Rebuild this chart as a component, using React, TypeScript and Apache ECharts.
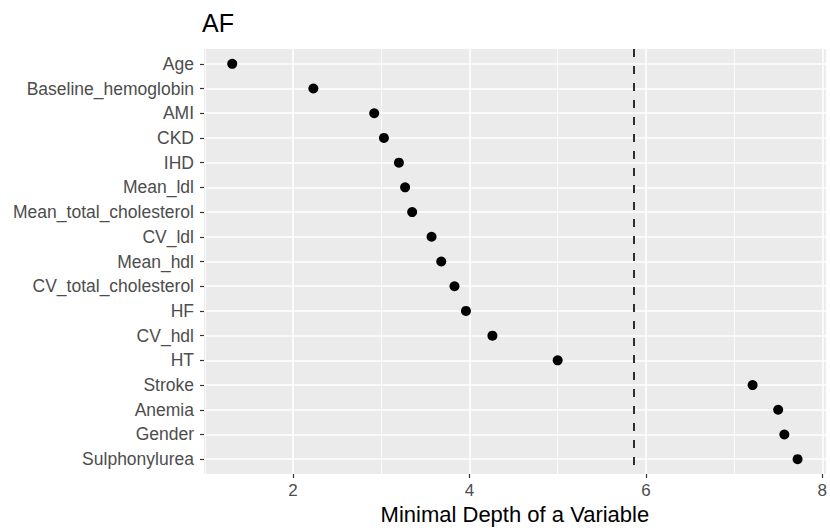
import React, { useEffect, useRef } from "react";
import * as echarts from "echarts";

const variables = [
  "Age",
  "Baseline_hemoglobin",
  "AMI",
  "CKD",
  "IHD",
  "Mean_ldl",
  "Mean_total_cholesterol",
  "CV_ldl",
  "Mean_hdl",
  "CV_total_cholesterol",
  "HF",
  "CV_hdl",
  "HT",
  "Stroke",
  "Anemia",
  "Gender",
  "Sulphonylurea",
];
const minimalDepth = [
  1.31, 2.23, 2.92, 3.03, 3.2, 3.27, 3.35, 3.57, 3.68, 3.83, 3.96, 4.26, 5.0,
  7.21, 7.5, 7.57, 7.72,
];
const thresholdDepth = 5.86;
const xMajorTicks = [2, 4, 6, 8];
const xMinorTicks = [1, 3, 5, 7];
const xMin = 0.99;
const xMax = 8.04;

export default function App() {
  const ref = useRef<HTMLDivElement>(null);
  useEffect(() => {
    if (!ref.current) return;
    const chart = echarts.init(ref.current, null, { renderer: "svg" });
    const yIdx = variables.map((_, i) => i);
    chart.setOption({
      animation: false,
      backgroundColor: "#ffffff",
      textStyle: { fontFamily: "Liberation Sans, Arial, sans-serif" },
      title: {
        text: "AF",
        left: 202,
        top: 10,
        padding: 0,
        textStyle: {
          fontSize: 25,
          fontWeight: "normal",
          color: "#000000",
          fontFamily: "Liberation Sans, Arial, sans-serif",
        },
      },
      grid: {
        left: 204,
        right: 1,
        top: 49,
        bottom: 58,
        show: true,
        backgroundColor: "#EBEBEB",
        borderWidth: 0,
      },
      xAxis: {
        type: "value",
        min: xMin,
        max: xMax,
        position: "bottom",
        name: "Minimal Depth of a Variable",
        nameLocation: "middle",
        nameGap: 29,
        nameTextStyle: {
          fontSize: 22,
          color: "#000000",
          fontFamily: "Liberation Sans, Arial, sans-serif",
        },
        axisLine: { show: false, onZero: false },
        axisTick: {
          show: true,
          length: 4,
          lineStyle: { color: "#333333", width: 1.2 },
          customValues: xMajorTicks,
        },
        axisLabel: {
          show: true,
          fontSize: 17,
          color: "#4D4D4D",
          margin: 8,
          customValues: xMajorTicks,
          fontFamily: "Liberation Sans, Arial, sans-serif",
        },
        splitLine: {
          show: true,
          lineStyle: { color: "#ffffff", width: 1.6 },
        },
      },
      yAxis: {
        type: "value",
        inverse: true,
        min: -0.6,
        max: 16.6,
        axisLine: { show: false, onZero: false },
        axisTick: {
          show: true,
          length: 4,
          lineStyle: { color: "#333333", width: 1.2 },
          customValues: yIdx,
        },
        axisLabel: {
          show: true,
          fontSize: 17.5,
          color: "#4D4D4D",
          margin: 10,
          customValues: yIdx,
          formatter: (v: number) => variables[Math.round(v)] ?? "",
          fontFamily: "Liberation Sans, Arial, sans-serif",
        },
        splitLine: {
          show: true,
          lineStyle: { color: "#ffffff", width: 1.6 },
        },
      },
      series: [
        {
          type: "scatter",
          data: [],
          silent: true,
          z: 1,
          markLine: {
            silent: true,
            z: 1,
            symbol: "none",
            label: { show: false },
            lineStyle: { color: "#ffffff", width: 0.8, type: "solid", opacity: 1 },
            data: xMinorTicks.map((v) => ({ xAxis: v })),
          },
        },
        {
          type: "scatter",
          z: 3,
          symbol: "circle",
          symbolSize: 10,
          itemStyle: { color: "#000000", opacity: 1 },
          data: minimalDepth.map((v, i) => [v, i]),
          markLine: {
            silent: true,
            z: 2,
            symbol: "none",
            label: { show: false },
            lineStyle: { color: "#1a1a1a", width: 1.8, type: [8, 9], opacity: 1 },
            data: [{ xAxis: thresholdDepth }],
          },
        },
      ],
    });
    return () => chart.dispose();
  }, []);
  return <div ref={ref} style={{ width: 830, height: 532, position: "absolute", left: 0, top: 0 }} />;
}
